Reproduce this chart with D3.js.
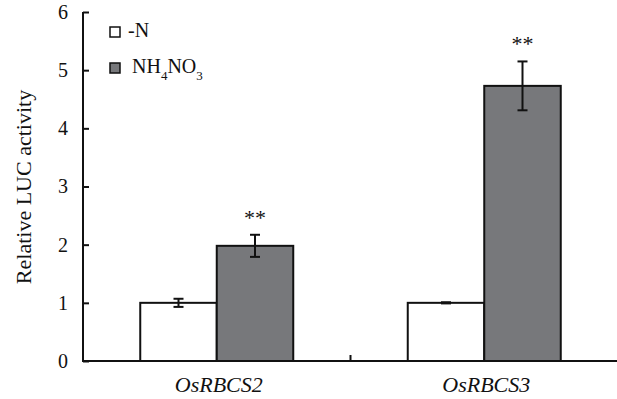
<!DOCTYPE html>
<html>
<head>
<meta charset="utf-8">
<script src="https://cdn.jsdelivr.net/npm/d3@7"></script>
<style>
  body { margin: 0; background: #fff; }
  text { font-family: "Liberation Serif", "DejaVu Serif", serif; fill: #111; }
</style>
</head>
<body>
<svg id="chart" width="617" height="399"></svg>
<script>
var genes = ["OsRBCS2", "OsRBCS3"];
var treatments = ["-N", "NH4NO3"];
var means = [[1.0, 1.98], [1.0, 4.73]];
var errors = [[0.07, 0.19], [0.01, 0.42]];
var stars = [["", "**"], ["", "**"]];
var yTicks = [0, 1, 2, 3, 4, 5, 6];

var colors = ["#ffffff", "#77787b"];

var svg = d3.select("#chart");
var plotLeft = 83, plotRight = 618, plotTop = 12, plotBottom = 361;

var x = d3.scaleBand().domain(genes).range([plotLeft, plotRight]).paddingInner(0).paddingOuter(0);
var inner = d3.scaleBand().domain(treatments).range([0, 153]);
var y = d3.scaleLinear().domain([0, 6]).range([plotBottom, plotTop]);

var rows = [];
genes.forEach(function(g, i) {
  treatments.forEach(function(t, j) {
    rows.push({ gene: g, t: t, j: j, v: means[i][j], e: errors[i][j], s: stars[i][j] });
  });
});

function barX(d) {
  return x(d.gene) + x.bandwidth() / 2 - 76.5 + inner(d.t);
}

svg.selectAll(".bar")
  .data(rows)
  .enter()
  .append("rect")
    .attr("class", "bar")
    .attr("x", barX)
    .attr("y", function(d) { return y(d.v); })
    .attr("width", inner.bandwidth())
    .attr("height", function(d) { return y(0) - y(d.v); })
    .attr("fill", function(d) { return colors[d.j]; })
    .attr("stroke", "#111")
    .attr("stroke-width", 2);

// error bars
var err = svg.selectAll(".err")
  .data(rows)
  .enter()
  .append("g")
    .attr("class", "err")
    .attr("stroke", "#111")
    .attr("stroke-width", 2);

err.append("line")
  .attr("x1", function(d) { return barX(d) + inner.bandwidth() / 2; })
  .attr("x2", function(d) { return barX(d) + inner.bandwidth() / 2; })
  .attr("y1", function(d) { return y(d.v + d.e); })
  .attr("y2", function(d) { return y(d.v - d.e); });

[1, -1].forEach(function(sign) {
  err.append("line")
    .attr("x1", function(d) { return barX(d) + inner.bandwidth() / 2 - 5; })
    .attr("x2", function(d) { return barX(d) + inner.bandwidth() / 2 + 5; })
    .attr("y1", function(d) { return y(d.v + sign * d.e); })
    .attr("y2", function(d) { return y(d.v + sign * d.e); });
});

svg.selectAll(".star")
  .data(rows.filter(function(d) { return d.s; }))
  .enter()
  .append("text")
    .attr("class", "star")
    .attr("x", function(d) { return barX(d) + inner.bandwidth() / 2; })
    .attr("y", function(d) { return y(d.v + d.e) - 10; })
    .attr("text-anchor", "middle")
    .attr("font-size", 22)
    .attr("fill", "#333")
    .text(function(d) { return d.s; });

// y axis (ticks point inward)
var yAxis = svg.append("g")
  .attr("transform", "translate(" + plotLeft + ",0)")
  .call(d3.axisLeft(y).tickValues(yTicks).tickSize(-6).tickPadding(15).tickFormat(d3.format("d")));
yAxis.select(".domain").attr("stroke", "#111").attr("stroke-width", 2).attr("d", "M0," + plotTop + "V" + plotBottom);
yAxis.selectAll(".tick line").attr("stroke", "#111").attr("stroke-width", 2);
yAxis.selectAll(".tick text")
  .attr("x", -15)
  .attr("font-size", 20)
  .attr("font-family", "Liberation Serif, serif")
  .attr("fill", "#111");

// x axis
var xAxis = svg.append("g")
  .attr("transform", "translate(0," + plotBottom + ")");
xAxis.append("line")
  .attr("x1", plotLeft - 1).attr("x2", plotRight)
  .attr("stroke", "#111").attr("stroke-width", 2);
xAxis.append("line")
  .attr("x1", x(genes[1])).attr("x2", x(genes[1]))
  .attr("y1", 0).attr("y2", -6)
  .attr("stroke", "#111").attr("stroke-width", 2);
xAxis.selectAll(".xlabel")
  .data(genes)
  .enter()
  .append("text")
    .attr("class", "xlabel")
    .attr("x", function(d) { return x(d) + x.bandwidth() / 2 + 2; })
    .attr("y", 31)
    .attr("text-anchor", "middle")
    .attr("font-size", 22)
    .attr("font-style", "italic")
    .text(function(d) { return d; });

svg.append("text")
  .attr("transform", "translate(31,187) rotate(-90)")
  .attr("text-anchor", "middle")
  .attr("font-size", 22)
  .text("Relative LUC activity");

// legend
var legend = svg.selectAll(".legend")
  .data(treatments)
  .enter()
  .append("g")
    .attr("class", "legend")
    .attr("transform", function(d, i) { return "translate(110," + (27 + i * 36) + ")"; });

legend.append("rect")
  .attr("width", 10).attr("height", 10)
  .attr("fill", function(d, i) { return colors[i]; })
  .attr("stroke", "#111")
  .attr("stroke-width", 1.5);

var legendText = legend.append("text")
  .attr("x", 18)
  .attr("y", 10)
  .attr("font-size", 20);

legendText.each(function(d) {
  var t = d3.select(this);
  if (d === "NH4NO3") {
    t.attr("x", 22);
    t.append("tspan").text("NH");
    t.append("tspan").attr("font-size", 13).attr("dy", 7).text("4");
    t.append("tspan").attr("dy", -7).text("NO");
    t.append("tspan").attr("font-size", 13).attr("dy", 7).text("3");
  } else {
    t.text(d);
  }
});
</script>
</body>
</html>
